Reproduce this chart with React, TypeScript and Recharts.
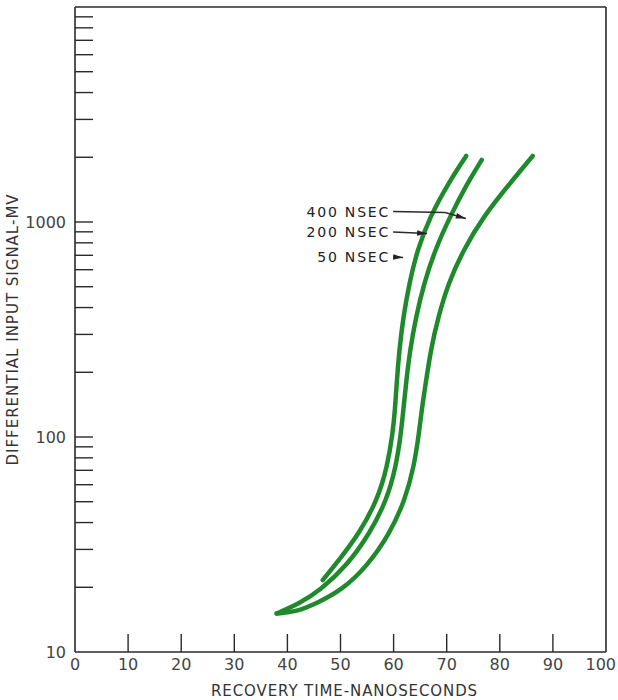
import { LineChart, Line, XAxis, YAxis, ReferenceLine, ReferenceDot } from 'recharts';

// recovery time (ns) vs differential input signal (mV)
const nsec50X = [46.65, 50.23, 53.54, 56.93, 58.81, 59.83, 60.26, 60.58, 61.07, 61.83, 62.96, 64.46, 66.85, 70.3, 73.67];
const nsec50Y = [21.6, 27.8, 35.7, 50.9, 72.8, 104, 133.6, 177.8, 254, 362.7, 518.6, 741, 1059, 1514, 2028];

const nsec200X = [37.98, 42.37, 46.14, 51.04, 55.56, 58.7, 60.45, 61.39, 61.83, 62.34, 63.09, 64.22, 65.73, 67.8, 70.62, 73.88, 76.59];
const nsec200Y = [15.1, 16.85, 19.4, 24.9, 35.7, 50.9, 72.8, 104, 133.6, 177.8, 254, 362.7, 518.6, 741, 1059, 1514, 1943];

const nsec400X = [37.98, 41.75, 45.52, 50.23, 54.93, 59.32, 62.15, 63.84, 64.78, 65.29, 66.05, 66.99, 68.42, 70.3, 73.13, 76.89, 81.92, 86.2];
const nsec400Y = [15.1, 15.4, 16.85, 19.4, 24.9, 35.7, 50.9, 72.8, 104, 133.6, 177.8, 254, 362.7, 518.6, 741, 1059, 1514, 2028];

const xTicks = [0, 10, 20, 30, 40, 50, 60, 70, 80, 90, 100];
const yTicks = [
  10, 20, 30, 40, 50, 60, 70, 80, 90,
  100, 200, 300, 400, 500, 600, 700, 800, 900,
  1000, 2000, 3000, 4000, 5000, 6000, 7000, 8000, 9000, 10000,
];
const yTickLabels = [10, 100, 1000];

// callouts: label plus leader line points (data coords)
const noteLabels = ['400 NSEC', '200 NSEC', '50 NSEC'];
const noteX = [[59.9, 69.7, 73.6], [59.9, 66.3], [59.9, 61.8]];
const noteY = [[1119, 1107, 1038], [898, 884], [688, 684]];
const noteHeadAngle = [16, 3, 3];

const GREEN = '#1f8a2c';
const INK = '#2a2a2a';
const FONT = '"DejaVu Sans", sans-serif';

const pts = (xs: number[], ys: number[]) => xs.map((x, i) => ({ x, y: ys[i] }));

function XTick(props: any) {
  const { x, y, payload } = props;
  const v = payload.value;
  const last = v === 100;
  return (
    <g>
      {v > 0 && v < 100 && (
        <line x1={x} y1={y} x2={x} y2={y - 18} stroke={INK} strokeWidth={1.4} />
      )}
      <text
        x={last ? x + 10 : x}
        y={y + 18}
        textAnchor={last ? 'end' : 'middle'}
        fontSize={16}
        fontFamily={FONT}
        fill="#444"
      >
        {v}
      </text>
    </g>
  );
}

function YTick(props: any) {
  const { x, y, payload } = props;
  const v = payload.value;
  return (
    <g>
      {v > 10 && v < 10000 && (
        <line x1={x} y1={y} x2={x + 18} y2={y} stroke={INK} strokeWidth={1.4} />
      )}
      {yTickLabels.includes(v) && (
        <text x={x - 9} y={y + 6} textAnchor="end" fontSize={16} fontFamily={FONT} fill="#444">
          {v}
        </text>
      )}
    </g>
  );
}

export default function App() {
  const series = [pts(nsec50X, nsec50Y), pts(nsec200X, nsec200Y), pts(nsec400X, nsec400Y)];

  return (
    <div style={{ position: 'absolute', left: 0, top: 0, background: '#fff' }}>
      <LineChart width={618} height={700} margin={{ top: 7, right: 12, left: 0, bottom: 0 }}>
        <XAxis
          dataKey="x"
          type="number"
          domain={[0, 100]}
          ticks={xTicks}
          height={48}
          tickSize={0}
          tickMargin={0}
          tickLine={false}
          tick={<XTick />}
          axisLine={{ stroke: INK, strokeWidth: 1.6 }}
          allowDataOverflow
          label={{
            content: (p: any) => (
              <text
                x={p.viewBox.x + p.viewBox.width / 2 + 4}
                y={p.viewBox.y + 44}
                textAnchor="middle"
                fontSize={15}
                letterSpacing={0.9}
                fontFamily={FONT}
                fill="#333"
              >
                RECOVERY TIME-NANOSECONDS
              </text>
            ),
          }}
        />
        <YAxis
          dataKey="y"
          type="number"
          scale="log"
          domain={[10, 10000]}
          ticks={yTicks}
          width={75}
          tickSize={0}
          tickMargin={0}
          tickLine={false}
          tick={<YTick />}
          interval={0}
          axisLine={{ stroke: INK, strokeWidth: 1.6 }}
          allowDataOverflow
          label={{
            content: (p: any) => (
              <text
                x={18}
                y={p.viewBox.y + p.viewBox.height / 2}
                transform={`rotate(-90 18 ${p.viewBox.y + p.viewBox.height / 2})`}
                textAnchor="middle"
                fontSize={15}
                letterSpacing={1}
                fontFamily={FONT}
                fill="#333"
              >
                DIFFERENTIAL INPUT SIGNAL-MV
              </text>
            ),
          }}
        />
        <ReferenceLine y={10000} stroke={INK} strokeWidth={1.6} />
        <ReferenceLine x={100} stroke={INK} strokeWidth={1.6} />

        {series.map((d, i) => (
          <Line
            key={i}
            data={d}
            dataKey="y"
            type="basis"
            dot={false}
            stroke={GREEN}
            strokeWidth={4.5}
            strokeLinecap="round"
            isAnimationActive={false}
          />
        ))}

        {noteLabels.map((label, i) =>
          noteX[i].slice(1).map((x, j) => (
            <ReferenceLine
              key={`${label}-${j}`}
              segment={[
                { x: noteX[i][j], y: noteY[i][j] },
                { x, y: noteY[i][j + 1] },
              ]}
              stroke={INK}
              strokeWidth={1.4}
            />
          ))
        )}
        {noteLabels.map((label, i) => (
          <ReferenceDot
            key={`t-${label}`}
            x={noteX[i][0]}
            y={noteY[i][0]}
            r={0}
            shape={(p: any) => (
              <text
                x={p.cx - 3}
                y={p.cy + 5}
                textAnchor="end"
                fontSize={14}
                letterSpacing={1.8}
                fontFamily={FONT}
                fill="#222"
              >
                {label}
              </text>
            )}
          />
        ))}
        {noteLabels.map((label, i) => {
          const n = noteX[i].length - 1;
          return (
            <ReferenceDot
              key={`h-${label}`}
              x={noteX[i][n]}
              y={noteY[i][n]}
              r={0}
              shape={(p: any) => (
                <polygon
                  points={`${p.cx},${p.cy} ${p.cx - 10},${p.cy - 2.8} ${p.cx - 10},${p.cy + 2.8}`}
                  transform={`rotate(${noteHeadAngle[i]} ${p.cx} ${p.cy})`}
                  fill="#222"
                />
              )}
            />
          );
        })}
      </LineChart>
    </div>
  );
}
